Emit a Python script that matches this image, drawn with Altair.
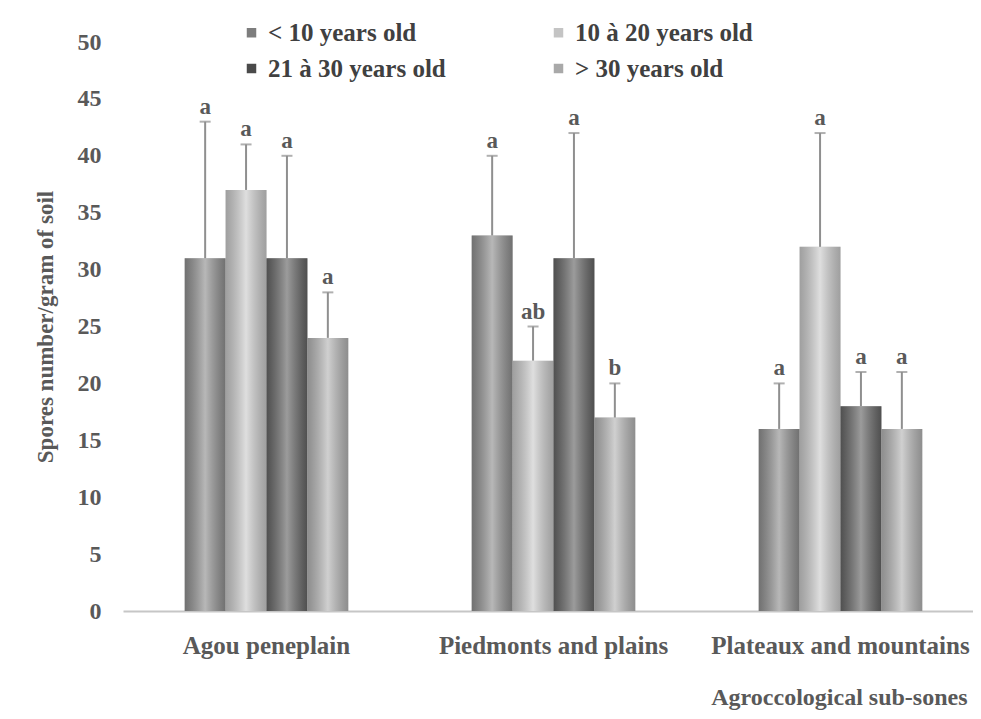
import altair as alt
import pandas as pd

zones = ["Agou peneplain", "Piedmonts and plains", "Plateaux and mountains"]
ages = ["< 10 years old", "10 à 20 years old", "21 à 30 years old", "> 30 years old"]

means_agou = [31, 37, 31, 24]
means_pied = [33, 22, 31, 17]
means_plat = [16, 32, 18, 16]

tops_agou = [43, 41, 40, 28]
tops_pied = [40, 25, 42, 20]
tops_plat = [20, 42, 21, 21]

letters_agou = ["a", "a", "a", "a"]
letters_pied = ["a", "ab", "a", "b"]
letters_plat = ["a", "a", "a", "a"]

age_colors = ["#7d7d7d", "#c4c4c4", "#4a4a4a", "#a9a9a9"]

rows = []
for z, ms, ts, ls in zip(zones, [means_agou, means_pied, means_plat],
                         [tops_agou, tops_pied, tops_plat],
                         [letters_agou, letters_pied, letters_plat]):
    for a, m, t, l in zip(ages, ms, ts, ls):
        rows.append({"zone": z, "age": a, "value": m, "top": t, "letter": l})
df = pd.DataFrame(rows)

FONT = "Liberation Serif"
TXT = "#595959"

x_enc = alt.X(
    "zone:N", sort=zones,
    scale=alt.Scale(paddingInner=0.43, paddingOuter=0.215, range=[0, 861]),
    axis=alt.Axis(
        title="Agroccological sub-sones", labelAngle=0, ticks=False, grid=False,
        domainColor="#c6c6c6", domainWidth=2,
        labelFont=FONT, labelFontWeight="bold", labelFontSize=25, labelColor=TXT,
        labelPadding=22, labelLimit=500,
        titleFont=FONT, titleFontWeight="bold", titleFontSize=24, titleColor=TXT,
        titleX=844, titleY=93, titleAlign="right", titleAnchor="end",
        titleBaseline="alphabetic", titleLimit=500,
    ),
)
xo_enc = alt.XOffset("age:N", sort=ages, scale=alt.Scale(paddingInner=0, paddingOuter=0))

y_scale = alt.Scale(domain=[0, 50])

base = alt.Chart(df).encode(x=x_enc, xOffset=xo_enc)

bars = base.mark_bar().encode(
    y=alt.Y(
        "value:Q", scale=y_scale,
        axis=alt.Axis(
            title="Spores number/gram of soil", values=list(range(0, 51, 5)),
            domain=False, ticks=False, grid=False,
            labelFont=FONT, labelFontWeight="bold", labelFontSize=24, labelColor=TXT,
            labelPadding=22,
            titleFont=FONT, titleFontWeight="bold", titleFontSize=23, titleColor=TXT,
            titlePadding=20, titleLimit=500,
        ),
    ),
    color=alt.Color(
        "age:N", sort=ages,
        scale=alt.Scale(domain=ages, range=age_colors),
        legend=alt.Legend(
            title=None, orient="none", legendX=116, legendY=-22, columns=2,
            direction="horizontal",
            symbolType="square", symbolSize=90, symbolStrokeWidth=0,
            labelFont=FONT, labelFontWeight="bold", labelFontSize=25, labelColor="#404040",
            labelOffset=4, rowPadding=10, columnPadding=100, labelLimit=500,
        ),
    ),
)

shade = base.mark_bar(
    fill=alt.Gradient(
        gradient="linear", x1=0, x2=1, y1=0, y2=0,
        stops=[
            alt.GradientStop(color="rgba(90,90,90,0.35)", offset=0),
            alt.GradientStop(color="rgba(255,255,255,0.45)", offset=0.5),
            alt.GradientStop(color="rgba(90,90,90,0.35)", offset=1),
        ],
    )
).encode(y=alt.Y("value:Q", scale=y_scale))

err = base.mark_rule(color="#8f8f8f", strokeWidth=2).encode(
    y=alt.Y("value:Q", scale=y_scale), y2="top:Q"
)

cap = base.mark_tick(color="#8f8f8f", thickness=2, size=11, orient="horizontal").encode(
    y=alt.Y("top:Q", scale=y_scale)
)

labels = base.mark_text(
    font=FONT, fontWeight="bold", fontSize=23, color=TXT, baseline="alphabetic", dy=-8
).encode(y=alt.Y("top:Q", scale=y_scale), text="letter:N")

chart = (
    alt.layer(bars, shade, err, cap, labels)
    .properties(
        width=850, height=569,
        background="white",
        autosize=alt.AutoSizeParams(type="none"),
        padding={"left": 115, "top": 34, "right": 0, "bottom": 100},
    )
    .configure_view(strokeWidth=0, stroke="transparent")
    .configure_axis(grid=False)
)

chart.save("out.html", embed_options={"renderer": "svg", "actions": False})
